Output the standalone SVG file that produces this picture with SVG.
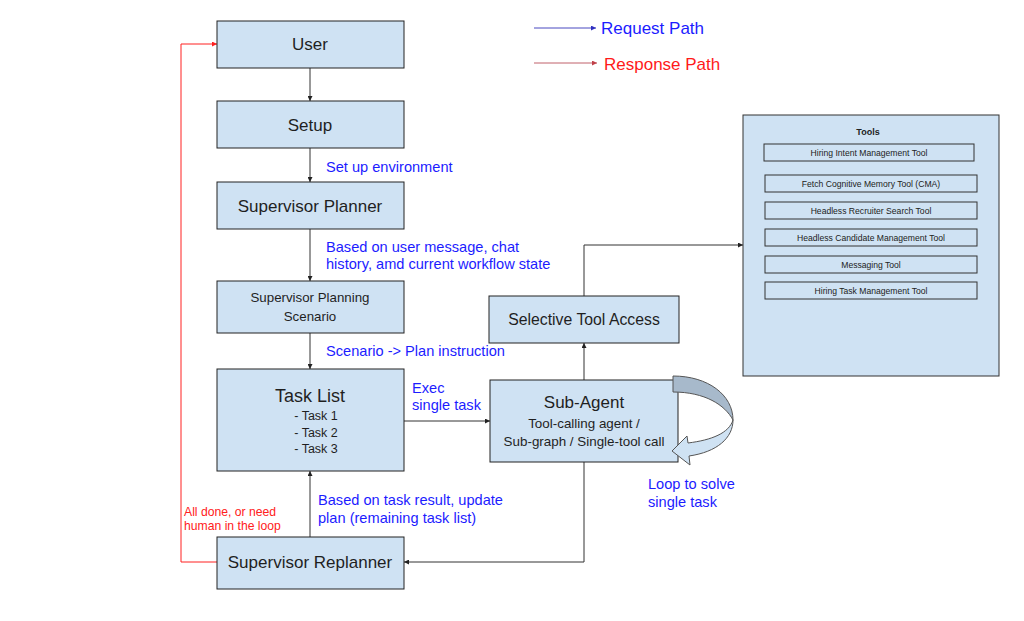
<svg xmlns="http://www.w3.org/2000/svg" width="1024" height="621" viewBox="0 0 1024 621">
<defs>
<style>
.box{fill:#cfe2f3;stroke:#222;stroke-width:1}
.tool{fill:#cfe2f3;stroke:#333;stroke-width:1}
.t{font-family:"Liberation Sans",Arial,sans-serif;fill:#1f1f1f;text-anchor:middle}
.lbl{font-family:"Liberation Sans",Arial,sans-serif;fill:#1c1cff;font-size:14.6px}
.red{font-family:"Liberation Sans",Arial,sans-serif;fill:#ff2020;font-size:12.2px}
.ln{fill:none;stroke:#333;stroke-width:1}
.tt{font-family:"Liberation Sans",Arial,sans-serif;fill:#222;font-size:8.6px;text-anchor:middle}
</style>
<marker id="ah" viewBox="0 0 10 10" refX="10" refY="5" markerWidth="5" markerHeight="5" orient="auto" markerUnits="userSpaceOnUse"><path d="M0,0 L10,5 L0,10 z" fill="#222"/></marker>
<marker id="ahr" viewBox="0 0 10 10" refX="10" refY="5" markerWidth="5" markerHeight="5" orient="auto" markerUnits="userSpaceOnUse"><path d="M0,0 L10,5 L0,10 z" fill="#ff2020"/></marker>
<marker id="ahb" viewBox="0 0 10 10" refX="10" refY="5" markerWidth="5" markerHeight="5" orient="auto" markerUnits="userSpaceOnUse"><path d="M0,0 L10,5 L0,10 z" fill="#3030c0"/></marker>
<marker id="ahl" viewBox="0 0 10 10" refX="10" refY="5" markerWidth="5" markerHeight="5" orient="auto" markerUnits="userSpaceOnUse"><path d="M0,0 L10,5 L0,10 z" fill="#c04048"/></marker>
</defs>
<rect width="1024" height="621" fill="#fff"/>

<g id="legend">
<line x1="534" y1="28" x2="596" y2="28" stroke="#4848c0" stroke-width="1" marker-end="url(#ahb)"/>
<text x="601" y="34" font-family="Liberation Sans,Arial,sans-serif" font-size="17" fill="#1c1cff">Request Path</text>
<line x1="534" y1="63" x2="597" y2="63" stroke="#c0606a" stroke-width="1" marker-end="url(#ahl)"/>
<text x="604" y="70" font-family="Liberation Sans,Arial,sans-serif" font-size="17" fill="#ff1a1a">Response Path</text>
</g>

<g id="connectors">
<line class="ln" x1="310" y1="68" x2="310" y2="101" marker-end="url(#ah)"/>
<line class="ln" x1="310" y1="148" x2="310" y2="182" marker-end="url(#ah)"/>
<line class="ln" x1="310" y1="229" x2="310" y2="281" marker-end="url(#ah)"/>
<line class="ln" x1="310" y1="333" x2="310" y2="369" marker-end="url(#ah)"/>
<line class="ln" x1="404" y1="421" x2="490" y2="421" marker-end="url(#ah)"/>
<line class="ln" x1="584" y1="380" x2="584" y2="343" marker-end="url(#ah)"/>
<polyline class="ln" points="584,296 584,245 743,245" marker-end="url(#ah)"/>
<polyline class="ln" points="584,462 584,562 404,562" marker-end="url(#ah)"/>
<line class="ln" x1="310" y1="537" x2="310" y2="471" marker-end="url(#ah)"/>
<polyline points="217,562 181,562 181,44 217,44" fill="none" stroke="#ff2020" stroke-width="1" marker-end="url(#ahr)"/>
</g>

<g id="labels">
<text class="lbl" x="326" y="172">Set up environment</text>
<text class="lbl" x="326" y="252">Based on user message, chat</text>
<text class="lbl" x="326" y="269">history, amd current workflow state</text>
<text class="lbl" x="326" y="356">Scenario -&gt; Plan instruction</text>
<text class="lbl" x="412" y="393">Exec</text>
<text class="lbl" x="412" y="410">single task</text>
<text class="lbl" x="318" y="505">Based on task result, update</text>
<text class="lbl" x="318" y="523">plan (remaining task list)</text>
<text class="red" x="184" y="516">All done, or need</text>
<text class="red" x="184" y="530">human in the loop</text>
<text class="lbl" x="648" y="489">Loop to solve</text>
<text class="lbl" x="648" y="507">single task</text>
</g>

<g id="user"><rect class="box" x="217" y="21" width="187" height="47"/><text class="t" x="310" y="50" font-size="17">User</text></g>
<g id="setup"><rect class="box" x="217" y="101" width="187" height="47"/><text class="t" x="310" y="131" font-size="17">Setup</text></g>
<g id="supervisor-planner"><rect class="box" x="217" y="182" width="187" height="47"/><text class="t" x="310" y="212" font-size="17">Supervisor Planner</text></g>
<g id="planning-scenario"><rect class="box" x="217" y="281" width="187" height="52"/><text class="t" x="310" y="302" font-size="13.3">Supervisor Planning</text><text class="t" x="310" y="321" font-size="13.3">Scenario</text></g>
<g id="task-list"><rect class="box" x="217" y="369" width="187" height="102"/><text class="t" x="310" y="402" font-size="18">Task List</text><text class="t" x="316" y="420" font-size="12.5">- Task 1</text><text class="t" x="316" y="437" font-size="12.5">- Task 2</text><text class="t" x="316" y="453" font-size="12.5">- Task 3</text></g>
<g id="supervisor-replanner"><rect class="box" x="217" y="537" width="187" height="52"/><text class="t" x="310" y="568" font-size="17">Supervisor Replanner</text></g>
<g id="selective-tool-access"><rect class="box" x="489" y="296" width="190" height="47"/><text class="t" x="584" y="325" font-size="15.8">Selective Tool Access</text></g>
<g id="sub-agent"><rect class="box" x="490" y="380" width="188" height="82"/><text class="t" x="584" y="408" font-size="17">Sub-Agent</text><text class="t" x="584" y="428" font-size="13.4">Tool-calling agent /</text><text class="t" x="584" y="446" font-size="13.4">Sub-graph / Single-tool call</text></g>

<g id="loop-arrow">
<path d="M673,376 C708,376 733,395 733,420 C725,405 705,392 673,392 Z" fill="#a7b9cb" stroke="#555" stroke-width="1"/>
<path d="M733,420 C733,438 717,452 689,456 L690,465 L672,451 L687,436 L688,443 C712,440 729,433 733,420 Z" fill="#cfe2f3" stroke="#555" stroke-width="1"/>
</g>

<g id="tools">
<rect class="tool" x="743" y="115" width="256" height="261"/>
<text x="868" y="135" font-family="Liberation Sans,Arial,sans-serif" font-size="9" font-weight="bold" fill="#222" text-anchor="middle">Tools</text>
<rect class="tool" x="764" y="144" width="210" height="17"/><text class="tt" x="869" y="155.5">Hiring Intent Management Tool</text>
<rect class="tool" x="765" y="175" width="212" height="17"/><text class="tt" x="871" y="186.5">Fetch Cognitive Memory Tool (CMA)</text>
<rect class="tool" x="765" y="202" width="212" height="17"/><text class="tt" x="871" y="213.5">Headless Recruiter Search Tool</text>
<rect class="tool" x="765" y="229" width="212" height="17"/><text class="tt" x="871" y="240.5">Headless Candidate Management Tool</text>
<rect class="tool" x="765" y="256" width="212" height="17"/><text class="tt" x="871" y="267.5">Messaging Tool</text>
<rect class="tool" x="765" y="282" width="212" height="17"/><text class="tt" x="871" y="293.5">Hiring Task Management Tool</text>
</g>
</svg>
